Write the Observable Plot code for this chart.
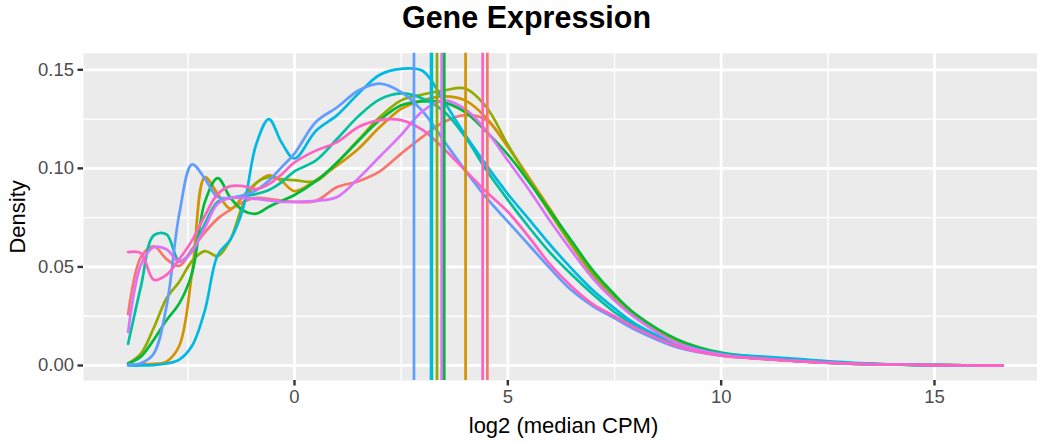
<!DOCTYPE html>
<html><head><meta charset="utf-8">
<script src="https://cdn.jsdelivr.net/npm/d3@7"></script>
<script src="https://cdn.jsdelivr.net/npm/@observablehq/plot@0.6"></script>
<style>
html,body{margin:0;padding:0;background:#fff;overflow:hidden}
#title{box-sizing:border-box;width:1037px;height:44px;line-height:52px;padding-left:16px;text-align:center;
 font:bold 30.5px "Liberation Sans",Arial,sans-serif;color:#000;white-space:nowrap;overflow:visible}
</style></head><body>
<div id="title">Gene Expression</div>
<div id="chart"></div>
<script>
// x positions (log2 median CPM) at which each density was read
const xs = [-3.9,-3.6,-3.3,-3.0,-2.7,-2.4,-2.1,-1.8,-1.5,-1.2,-0.9,-0.6,-0.3,0,0.5,1,1.5,2,2.5,3,3.5,4,4.5,5,5.5,6,6.5,7,7.5,8,9,10,11,12,13,14,15,16.6];

const groups = ["S1","S2","S3","S4","S5","S6","S7","S8","S9"];
const colors = ["#F8766D","#D39200","#93AA00","#00BA38","#00C19F","#00B9E3","#619CFF","#DB72FB","#FF61C3"];
const medians = [4.52, 4.01, 3.34, 3.51, 3.22, 3.20, 2.80, 3.45, 4.41];

const densS1 = [0.026,0.055,0.0605,0.054,0.0505,0.059,0.0675,0.0745,0.079,0.083,0.085,0.0845,0.0835,0.083,
  0.0835,0.0905,0.0935,0.0985,0.1075,0.116,0.1235,0.127,0.1245,0.111,0.095,0.078,0.061,0.046,0.034,0.025,
  0.012,0.0058,0.0035,0.002,0.0011,0.0005,0.0002,0.0001];
const densS2 = [0.0005,0.0005,0.0008,0.002,0.010,0.047,0.0955,0.087,0.0795,0.086,0.0925,0.0965,0.0935,0.0885,
  0.094,0.1015,0.110,0.121,0.1302,0.1345,0.1365,0.1345,0.1255,0.111,0.095,0.079,0.062,0.047,0.035,0.025,
  0.012,0.0058,0.0033,0.002,0.001,0.0005,0.0002,0.0001];
const densS3 = [0.001,0.006,0.019,0.034,0.0425,0.053,0.058,0.0555,0.064,0.082,0.0925,0.0955,0.0945,0.094,
  0.0935,0.103,0.1145,0.126,0.1345,0.1375,0.1395,0.1405,0.131,0.112,0.094,0.077,0.061,0.046,0.034,0.025,
  0.012,0.0055,0.0033,0.002,0.001,0.0005,0.0002,0.0001];
const densS4 = [0.001,0.0045,0.013,0.023,0.0315,0.047,0.083,0.095,0.085,0.0785,0.077,0.0805,0.0835,0.0865,
  0.0935,0.103,0.114,0.1245,0.132,0.134,0.1335,0.1285,0.1185,0.107,0.093,0.078,0.063,0.048,0.036,0.026,
  0.013,0.0065,0.0042,0.0025,0.0012,0.0005,0.0002,0.0001];
const densS5 = [0.011,0.040,0.066,0.0665,0.053,0.058,0.072,0.083,0.085,0.086,0.087,0.089,0.093,0.0985,
  0.104,0.115,0.1265,0.135,0.138,0.1355,0.129,0.116,0.099,0.084,0.070,0.057,0.046,0.036,0.027,0.020,
  0.010,0.0055,0.0038,0.0022,0.0011,0.0005,0.0002,0.0001];
const densS6 = [0,0,0.0002,0.001,0.003,0.010,0.028,0.056,0.064,0.080,0.112,0.125,0.113,0.105,
  0.119,0.127,0.138,0.1475,0.1505,0.1495,0.134,0.117,0.1015,0.087,0.074,0.061,0.049,0.038,0.029,0.021,
  0.011,0.006,0.0045,0.003,0.0015,0.0006,0.0002,0.0001];
const densS7 = [0.0005,0.0012,0.006,0.030,0.077,0.102,0.0947,0.0854,0.085,0.0863,0.0888,0.0938,0.1006,0.1075,
  0.1235,0.131,0.1395,0.143,0.1387,0.129,0.114,0.099,0.085,0.073,0.061,0.049,0.038,0.030,0.024,0.018,
  0.009,0.005,0.0035,0.002,0.001,0.0005,0.0002,0.0001];
const densS8 = [0.017,0.051,0.060,0.059,0.0525,0.058,0.070,0.082,0.085,0.085,0.0845,0.0838,0.083,0.083,
  0.0835,0.0855,0.095,0.106,0.117,0.129,0.1345,0.130,0.119,0.104,0.089,0.073,0.058,0.044,0.033,0.024,
  0.011,0.0055,0.0033,0.002,0.001,0.0005,0.0002,0.0001];
const densS9 = [0.0575,0.057,0.0435,0.046,0.054,0.0635,0.076,0.087,0.091,0.091,0.0895,0.092,0.097,0.103,
  0.109,0.1133,0.121,0.1245,0.1245,0.1195,0.110,0.099,0.088,0.078,0.065,0.051,0.040,0.031,0.025,0.019,
  0.0095,0.005,0.0035,0.002,0.001,0.0005,0.0002,0.0001];

const xMajor = [0,5,10,15];
const xMinor = [-2.5,2.5,7.5,12.5];
const yMajor = [0,0.05,0.10,0.15];
const yMinor = [0.025,0.075,0.125];

const series = [densS1,densS2,densS3,densS4,densS5,densS6,densS7,densS8,densS9];
const rows = [];
series.forEach((vals,i)=> vals.forEach((v,j)=> rows.push({x: xs[j], y: v, g: groups[i]})));
const medRows = groups.map((g,i)=>({g, m: medians[i]}));

const kx = 640/15;
const ky = 295.7/0.15;
const plot = Plot.plot({
  width: 1037, height: 399,
  marginLeft: 83, marginRight: 0, marginTop: 8.7, marginBottom: 63,
  style: {fontFamily: '"Liberation Sans", Arial, sans-serif', color: "#4D4D4D", background: "white"},
  x: {domain: [-(294-83)/kx, (1037-294)/kx]},
  y: {domain: [-(336-321)/ky, 0.15 + (25.3-8.7)/ky]},
  color: {domain: groups, range: colors},
  marks: [
    Plot.frame({fill: "#EBEBEB", stroke: null}),
    Plot.ruleY(yMinor, {stroke: "white", strokeWidth: 1.4}),
    Plot.ruleX(xMinor, {stroke: "white", strokeWidth: 1.4}),
    Plot.ruleY(yMajor, {stroke: "white", strokeWidth: 2.8}),
    Plot.ruleX(xMajor, {stroke: "white", strokeWidth: 2.8}),
    Plot.line(rows, {x: "x", y: "y", z: "g", stroke: "g", strokeWidth: 2.7, curve: "catmull-rom"}),
    Plot.ruleX(medRows, {x: "m", stroke: "g", strokeWidth: 2.7}),
    Plot.axisX({ticks: xMajor, tickSize: 5.5, tickPadding: 4, strokeWidth: 2.4, stroke: "#333333", fill: "#4D4D4D", fontSize: 18.5, label: null}),
    Plot.axisY({ticks: yMajor, tickFormat: d3.format(".2f"), tickSize: 5.5, tickPadding: 4, strokeWidth: 2.4, stroke: "#333333", fill: "#4D4D4D", fontSize: 18.5, label: null}),
    Plot.text(["log2 (median CPM)"], {frameAnchor: "bottom", dy: 45, dx: 3, lineAnchor: "middle", textAnchor: "middle", fontSize: 22, fill: "black"}),
    Plot.text(["Density"], {frameAnchor: "left", dx: -65.5, rotate: -90, textAnchor: "middle", lineAnchor: "middle", fontSize: 22, fill: "black"})
  ]
});
document.getElementById("chart").appendChild(plot);
</script>
</body></html>
